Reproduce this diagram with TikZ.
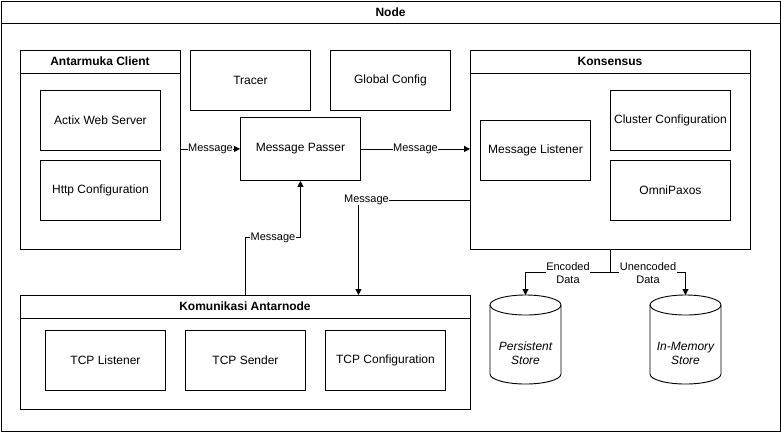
\documentclass[tikz,border=0pt]{standalone}
\usepackage{fontspec}
\setmainfont{Liberation Sans}
\usetikzlibrary{arrows.meta,calc}
\begin{document}
\begin{tikzpicture}[x=1pt,y=-1pt,
  lw/.style={line width=0.9pt},
  box/.style={draw, lw, minimum width=120pt, minimum height=60pt, anchor=north west, inner sep=0pt, font=\fontsize{12}{14}\selectfont, align=center},
  cont/.style={draw, lw, anchor=north west, inner sep=0pt},
  ttl/.style={font=\bfseries\fontsize{12}{14}\selectfont, inner sep=0pt},
  lbl/.style={fill=white, inner sep=0.5pt, font=\fontsize{11}{13}\selectfont, align=center},
  arr/.style={lw, -{Triangle[length=6pt,width=6pt]}},
  cyltext/.style={font=\itshape\fontsize{12}{14}\selectfont, align=center, inner sep=0pt}
]
\useasboundingbox (0,0) rectangle (781,432);
% outer Node container
\node[cont, minimum width=779pt, minimum height=430pt] (node) at (1,1) {};
\draw[lw] (1,23) -- (780,23);
\node[ttl] (nodettl) at (390.5,12) {Node};

% Antarmuka Client
\node[cont, minimum width=160pt, minimum height=199pt] (ac) at (20,50) {};
\draw[lw] (20,73) -- (180,73);
\node[ttl] (acttl) at (100,61.5) {Antarmuka Client};
\node[box] (aws) at (40,90) {Actix Web Server};
\node[box] (http) at (40,160) {Http Configuration};

% Tracer, Global Config
\node[box] (tr) at (190,50) {Tracer};
\node[box] (gc) at (330,50) {Global Config};

% Message Passer
\node[box, minimum height=63pt] (mp) at (240,117) {Message Passer};

% Konsensus
\node[cont, minimum width=280pt, minimum height=199pt] (ks) at (470,50) {};
\draw[lw] (470,73) -- (750,73);
\node[ttl] (ksttl) at (610,61.5) {Konsensus};
\node[box, minimum width=110pt] (ml) at (480,120) {Message Listener};
\node[box] (cc) at (610,90) {Cluster Configuration};
\node[box] (op) at (610,160) {OmniPaxos};

% Komunikasi Antarnode
\node[cont, minimum width=450pt, minimum height=114pt] (kom) at (20,295) {};
\draw[lw] (20,318) -- (470,318);
\node[ttl] (komttl) at (245,306.5) {Komunikasi Antarnode};
\node[box] (tl) at (45,330) {TCP Listener};
\node[box] (ts) at (185,330) {TCP Sender};
\node[box] (tc) at (325,330) {TCP Configuration};

% Cylinders
\node[minimum width=71pt, minimum height=89pt, anchor=north, inner sep=0pt] (ps) at (525.5,295) {};
\draw[lw, fill=white] (490,305) -- (490,374) arc[start angle=180, end angle=360, x radius=35.5pt, y radius=10pt] -- (561,305);
\draw[lw] (525.5,305) ellipse[x radius=35.5pt, y radius=10pt];
\node[cyltext] (pstxt) at ($(ps.center)+(0,13.5)$) {Persistent\\Store};

\node[minimum width=71pt, minimum height=89pt, anchor=north, inner sep=0pt] (ims) at (685.5,295) {};
\draw[lw, fill=white] (650,305) -- (650,374) arc[start angle=180, end angle=360, x radius=35.5pt, y radius=10pt] -- (721,305);
\draw[lw] (685.5,305) ellipse[x radius=35.5pt, y radius=10pt];
\node[cyltext] (imstxt) at ($(ims.center)+(0,13.5)$) {In-Memory\\Store};

% Connectors
\draw[arr] (ac.east |- mp.west) -- node[lbl] {Message} (mp.west);
\draw[arr] (mp.east) -- node[lbl] {Message} (ks.west |- mp.east);
\coordinate (k3) at ([yshift=-50.5pt]ks.west);
\coordinate (k3e) at ([xshift=113pt]kom.north);
\draw[arr] (k3) -- (k3 -| k3e) -- (k3e);
\node[lbl] (l3) at (366.5,200) {Message};
\coordinate (c4a) at (kom.north |- 0,237.5);
\coordinate (c4b) at (mp.south |- 0,237.5);
\draw[arr] (kom.north) -- (c4a) -- node[lbl] {Message} (c4b) -- (mp.south);

\coordinate (split) at (ks.south |- 0,272.5);
\draw[lw] (ks.south) -- (split);
\draw[arr] (split) -- (split -| ps.north) -- (ps.north);
\draw[arr] (split) -- (split -| ims.north) -- (ims.north);
\node[lbl] (l5a) at (568,273) {Encoded\\Data};
\node[lbl] (l5b) at (648,273) {Unencoded\\Data};
\end{tikzpicture}
\end{document}
